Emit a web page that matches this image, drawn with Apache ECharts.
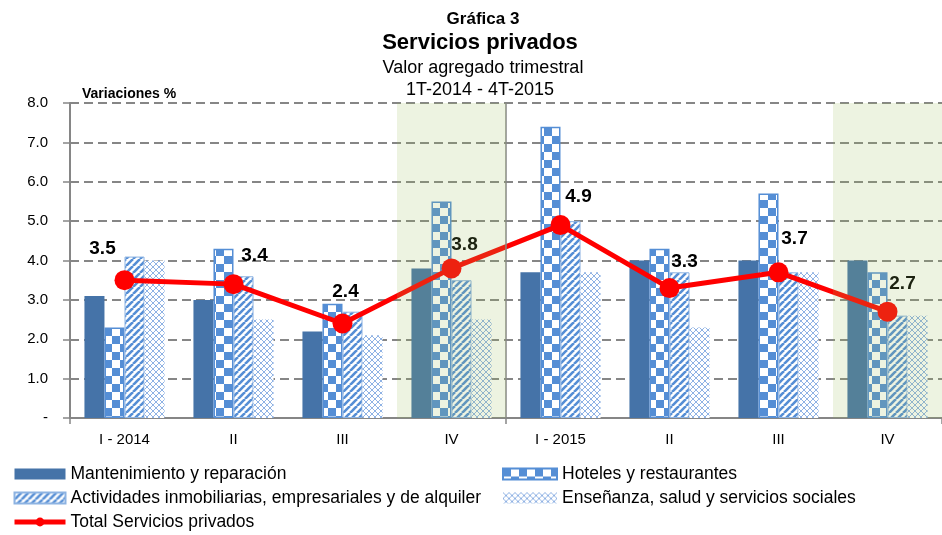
<!DOCTYPE html>
<html>
<head>
<meta charset="utf-8">
<script src="https://cdn.jsdelivr.net/npm/echarts@6/dist/echarts.min.js"></script>
<style>
  html, body { margin:0; padding:0; background:#fff; }
  #chart { width:942px; height:535px; }
</style>
</head>
<body>
<div id="chart"></div>
<script>
// datos
const categories = ['I - 2014', 'II', 'III', 'IV', 'I - 2015', 'II', 'III', 'IV'];
const mantenimiento = [3.1, 3.0, 2.2, 3.8, 3.7, 4.0, 4.0, 4.0];
const hoteles = [2.3, 4.3, 2.9, 5.5, 7.4, 4.3, 5.7, 3.7];
const actividades = [4.1, 3.6, 2.7, 3.5, 5.0, 3.7, 3.7, 2.6];
const ensenanza = [4.0, 2.5, 2.1, 2.5, 3.7, 2.3, 3.7, 2.6];
const totalServicios = [3.5, 3.4, 2.4, 3.8, 4.9, 3.3, 3.7, 2.7];
const yTicks = [0, 1, 2, 3, 4, 5, 6, 7, 8];

// estilo de etiquetas (desplazamiento respecto al punto)
const labelOffsets = [[-22, -31], [21, -28], [3, -32], [13, -24], [18, -28], [15, -26], [16, -34], [15, -28]];

const FONT = "'Liberation Sans', Arial, sans-serif";
const BLUE = '#558ed5';

// patrones de relleno
function checker() {
  const c = document.createElement('canvas');
  c.width = 16; c.height = 16;
  const g = c.getContext('2d');
  g.fillStyle = '#fff'; g.fillRect(0, 0, 16, 16);
  g.fillStyle = BLUE;
  g.fillRect(0, 0, 8, 8); g.fillRect(8, 8, 8, 8);
  return c;
}
function diagonal() {
  const s = 7;
  const c = document.createElement('canvas');
  c.width = s; c.height = s;
  const g = c.getContext('2d');
  g.fillStyle = '#fff'; g.fillRect(0, 0, s, s);
  g.strokeStyle = BLUE; g.lineWidth = 2.6;
  for (let k = -1; k <= 1; k++) {
    g.beginPath(); g.moveTo(k * s, s); g.lineTo(k * s + s, 0); g.stroke();
  }
  return c;
}
function dotted() {
  const s = 6;
  const c = document.createElement('canvas');
  c.width = s; c.height = s;
  const g = c.getContext('2d');
  g.fillStyle = '#fff'; g.fillRect(0, 0, s, s);
  g.strokeStyle = '#8fb2e4'; g.lineWidth = 1;
  g.beginPath(); g.moveTo(0, 0); g.lineTo(s, s); g.stroke();
  g.beginPath(); g.moveTo(s, 0); g.lineTo(0, s); g.stroke();
  return c;
}

const chart = echarts.init(document.getElementById('chart'), null, { renderer: 'canvas' });

const barBase = { type: 'bar', barGap: '0%', barCategoryGap: '26.5%', z: 2 };
const legendText = { fontFamily: FONT, fontSize: 17.5, color: '#000', lineHeight: 18 };

const option = {
  animation: false,
  backgroundColor: '#fff',
  textStyle: { fontFamily: FONT },
  title: [
    { text: 'Gráfica 3', left: 478, textAlign: 'center', top: 6,
      textStyle: { fontFamily: FONT, fontSize: 17, fontWeight: 'bold', color: '#000', lineHeight: 17 } },
    { text: 'Servicios privados', left: 475, textAlign: 'center', top: 27,
      textStyle: { fontFamily: FONT, fontSize: 22, fontWeight: 'bold', color: '#000', lineHeight: 22 } },
    { text: 'Valor agregado trimestral', left: 478, textAlign: 'center', top: 54,
      textStyle: { fontFamily: FONT, fontSize: 18, fontWeight: 'normal', color: '#000', lineHeight: 18 } },
    { text: '1T-2014 - 4T-2015', left: 475, textAlign: 'center', top: 76,
      textStyle: { fontFamily: FONT, fontSize: 18, fontWeight: 'normal', color: '#000', lineHeight: 18 } },
    { text: 'Variaciones %', left: 77, top: 82,
      textStyle: { fontFamily: FONT, fontSize: 14, fontWeight: 'bold', color: '#000', lineHeight: 14 } }
  ],
  legend: [
    {
      orient: 'vertical', left: 12, top: 465, padding: 0, itemWidth: 51, itemHeight: 11, itemGap: 6,
      textStyle: legendText,
      data: [
        { name: 'Mantenimiento y reparación', icon: 'rect' },
        { name: 'Actividades inmobiliarias, empresariales y de alquiler', icon: 'rect' },
        { name: 'Total Servicios privados', lineStyle: { width: 5 } }
      ]
    },
    {
      orient: 'vertical', left: 502, top: 465, padding: 0, itemWidth: 54, itemHeight: 11, itemGap: 6,
      textStyle: legendText,
      data: [
        { name: 'Hoteles y restaurantes', icon: 'rect' },
        { name: 'Enseñanza, salud y servicios sociales', icon: 'rect' }
      ]
    }
  ],
  grid: { left: 70, right: -10, top: 103, bottom: 117, containLabel: false },
  xAxis: [
    {
      type: 'category',
      data: categories,
      axisLine: { lineStyle: { color: '#868686', width: 2 } },
      axisTick: { show: true, length: 6, interval: (i) => i === 0 || i === 4, lineStyle: { color: '#868686', width: 1.5 } },
      axisLabel: { fontFamily: FONT, fontSize: 15, color: '#000', margin: 14, interval: 0 },
      splitLine: { show: false }
    },
    { type: 'value', min: 0, max: 8, show: false }
  ],
  yAxis: {
    type: 'value',
    min: yTicks[0], max: yTicks[yTicks.length - 1], interval: 1,
    axisLine: { show: true, lineStyle: { color: '#868686', width: 2 } },
    axisTick: { show: true, length: 7, lineStyle: { color: '#868686', width: 1.5 } },
    axisLabel: {
      fontFamily: FONT, fontSize: 15, color: '#000', margin: 22,
      formatter: (v) => v === 0 ? '-' : v.toFixed(1)
    },
    splitLine: { show: true, lineStyle: { color: '#868686', width: 1.8, type: [9, 5] } }
  },
  series: [
    Object.assign({}, barBase, {
      name: 'Mantenimiento y reparación', data: mantenimiento,
      itemStyle: { color: '#4573a8' }
    }),
    Object.assign({}, barBase, {
      name: 'Hoteles y restaurantes', data: hoteles,
      itemStyle: { color: { image: checker(), repeat: 'repeat' }, borderColor: BLUE, borderWidth: 1.5 }
    }),
    Object.assign({}, barBase, {
      name: 'Actividades inmobiliarias, empresariales y de alquiler', data: actividades,
      itemStyle: { color: { image: diagonal(), repeat: 'repeat' }, borderColor: '#8db3e2', borderWidth: 1 }
    }),
    Object.assign({}, barBase, {
      name: 'Enseñanza, salud y servicios sociales', data: ensenanza,
      itemStyle: { color: { image: dotted(), repeat: 'repeat' }, borderWidth: 0 }
    }),
    {
      name: 'Total Servicios privados',
      type: 'line', z: 5,
      data: totalServicios.map((v, i) => ({ value: v, label: { offset: labelOffsets[i] } })),
      symbol: 'circle', symbolSize: 20,
      lineStyle: { color: '#ff0000', width: 5 },
      itemStyle: { color: '#ff0000' },
      label: {
        show: true, position: 'inside',
        fontFamily: FONT, fontSize: 19, fontWeight: 'bold', color: '#000',
        formatter: (p) => p.value.toFixed(1)
      }
    },
    {
      // sombreado de los cuartos trimestres y separador de años
      type: 'scatter', xAxisIndex: 1, yAxisIndex: 0, data: [], z: 10, silent: true,
      markArea: {
        silent: true, z: 10,
        itemStyle: { color: 'rgba(155,187,89,0.18)' },
        data: [[{ xAxis: 3 }, { xAxis: 4 }], [{ xAxis: 7 }, { xAxis: 8 }]]
      },
      markLine: {
        silent: true, symbol: 'none', z: 9,
        label: { show: false },
        lineStyle: { color: '#868686', width: 1.5, type: 'solid' },
        data: [{ xAxis: 4 }]
      }
    }
  ]
};

chart.setOption(option);
</script>
</body>
</html>
